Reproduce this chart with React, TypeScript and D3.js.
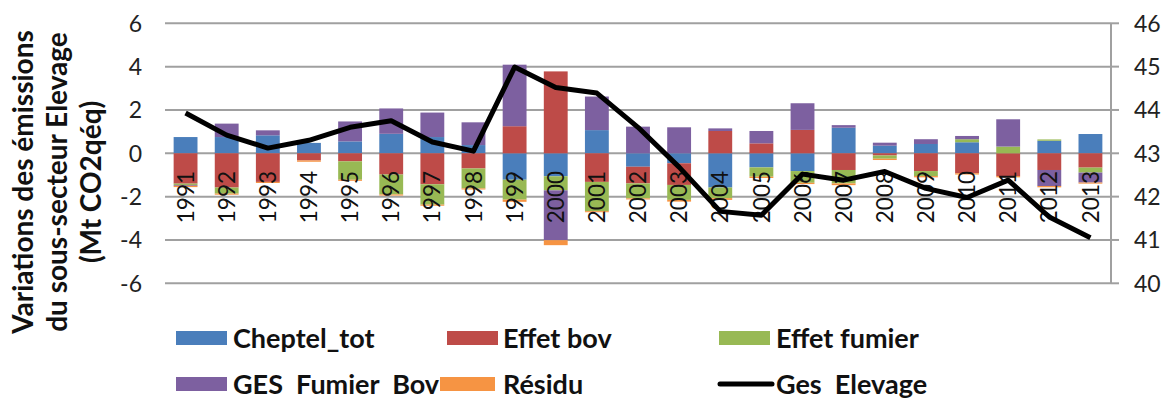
import * as d3 from "d3";

// categories
const years = [
  "1991", "1992", "1993", "1994", "1995", "1996", "1997", "1998", "1999", "2000", "2001", "2002",
  "2003", "2004", "2005", "2006", "2007", "2008", "2009", "2010", "2011", "2012", "2013",
];

// stacked components (Mt CO2 eq, left axis)
const cheptelTot = [0.75, 0.75, 0.83, 0.48, 0.55, 0.9, 0.75, 0.38, -1.22, -1.06, 1.07, -0.62, -0.46, -1.58, -0.65, -0.82, 1.18, 0.35, 0.43, 0.51, 0, 0.58, 0.89];
const effetBov = [-1.4, -1.58, -1.32, -0.33, -0.37, -0.98, -1.43, -0.7, 1.25, 3.78, -1.32, -0.77, -1.0, 1.03, 0.46, 1.08, -0.77, -0.1, -0.82, -0.92, -1.05, -0.77, -0.66];
const effetFumier = [-0.06, -0.28, 0, 0, -0.85, -0.92, -0.94, -0.92, -0.92, -0.65, -1.35, -0.69, -0.69, -0.49, -0.43, -0.54, -0.62, -0.15, -0.23, 0.14, 0.31, 0.06, -0.23];
const gesFumierBov = [-0.04, 0.62, 0.23, 0, 0.92, 1.17, 1.13, 1.05, 2.84, -2.3, 1.55, 1.23, 1.2, 0.12, 0.57, 1.23, 0.12, 0.14, 0.22, 0.15, 1.26, -0.74, -0.46];
const residu = [-0.06, -0.05, -0.05, -0.06, -0.05, -0.05, -0.05, -0.05, -0.1, -0.23, -0.05, -0.05, -0.08, -0.08, -0.06, -0.06, -0.08, -0.06, -0.06, -0.06, -0.06, -0.06, -0.05];

// total (right axis)
const gesElevage = [43.93, 43.42, 43.12, 43.3, 43.6, 43.75, 43.26, 43.05, 44.99, 44.52, 44.39, 43.6, 42.68, 41.66, 41.57, 42.52, 42.38, 42.58, 42.19, 41.98, 42.38, 41.53, 41.05];

const leftTicks = [-6, -4, -2, 0, 2, 4, 6];
const rightTicks = [40, 41, 42, 43, 44, 45, 46];

const seriesNames = ["Cheptel_tot", "Effet bov", "Effet fumier", "GES  Fumier  Bov", "Résidu"];
const seriesValues = [cheptelTot, effetBov, effetFumier, gesFumierBov, residu];
const colors = ["#4a7ebb", "#be4b48", "#98b954", "#7d60a0", "#f69443"];
const lineName = "Ges  Elevage";

const titleLines = ["Variations des émissions", "du sous-secteur Elevage", "(Mt CO2qéq)"];

const W = 1168;
const H = 401;
const plotLeft = 165;
const plotRight = 1111;
const plotTop = 23.3;
const plotBottom = 283.3;
const font = "Lato, 'Open Sans', sans-serif";

// keep the double spaces of the legend labels
const keepSpaces = (s: string) => s.replace(/  /g, "\u00a0 ");

export default function App() {
  const rows = years.map((y, i) => {
    const r: Record<string, any> = { year: y };
    seriesNames.forEach((s, k) => (r[s] = seriesValues[k][i]));
    return r;
  });

  const stacked = d3
    .stack<Record<string, any>>()
    .keys(seriesNames)
    .offset(d3.stackOffsetDiverging)(rows);

  const x = d3.scaleBand().domain(years).range([plotLeft, plotRight]).padding(0);
  const barW = x.bandwidth() * 0.58;
  const cx = (y: string) => x(y)! + x.bandwidth() / 2;

  const yL = d3.scaleLinear().domain([-6, 6]).range([plotBottom, plotTop]);
  const yR = d3.scaleLinear().domain([40, 46]).range([plotBottom, plotTop]);

  const line = d3
    .line<number>()
    .x((_, i) => cx(years[i]))
    .y((d) => yR(d));

  // legend layout: swatch x, row, text x, swatch width
  const legendLayout = [
    { sx: 176, row: 0, tx: 233, sw: 51 },
    { sx: 447, row: 0, tx: 503, sw: 51 },
    { sx: 719, row: 0, tx: 776, sw: 51 },
    { sx: 176, row: 1, tx: 233, sw: 51 },
    { sx: 440, row: 1, tx: 503, sw: 55 },
  ];
  const rowY = [338, 384];

  return (
    <svg
      width={W}
      height={H}
      style={{ position: "absolute", left: 0, top: 0, background: "#fff" }}
      fontFamily={font}
    >
      {/* gridlines */}
      <g stroke="#a0a0a0" strokeWidth={2}>
        {leftTicks.map((t) => (
          <line key={t} x1={plotLeft} x2={plotRight} y1={yL(t)} y2={yL(t)} />
        ))}
      </g>

      {/* right axis */}
      <g stroke="#a0a0a0" strokeWidth={2}>
        <line x1={plotRight} x2={plotRight} y1={plotTop} y2={plotBottom} />
        {rightTicks.map((t) => (
          <line key={t} x1={plotRight} x2={plotRight + 8} y1={yR(t)} y2={yR(t)} />
        ))}
      </g>

      {/* left tick labels */}
      <g fontSize={23} fill="#222" textAnchor="end">
        {leftTicks.map((t) => (
          <text key={t} x={142} y={yL(t)} dy="0.36em">
            {t}
          </text>
        ))}
      </g>

      {/* right tick labels */}
      <g fontSize={23} fill="#222">
        {rightTicks.map((t) => (
          <text key={t} x={1134} y={yR(t)} dy="0.36em">
            {t}
          </text>
        ))}
      </g>

      {/* stacked bars */}
      {stacked.map((s, k) => (
        <g key={s.key} fill={colors[k]}>
          {s.map((d, i) => {
            const y0 = yL(d[0]);
            const y1 = yL(d[1]);
            if (Math.abs(y1 - y0) < 0.01) return null;
            return (
              <rect
                key={i}
                x={cx(years[i]) - barW / 2}
                y={Math.min(y0, y1)}
                width={barW}
                height={Math.abs(y1 - y0)}
              />
            );
          })}
        </g>
      ))}

      {/* year labels */}
      <g fontSize={22.5} fill="#111" textAnchor="end">
        {years.map((y) => (
          <text key={y} transform={`translate(${cx(y)},171) rotate(-90)`} dy="0.36em">
            {y}
          </text>
        ))}
      </g>

      {/* total line */}
      <path
        d={line(gesElevage) || ""}
        fill="none"
        stroke="#000"
        strokeWidth={5}
        strokeLinejoin="round"
      />

      {/* y title */}
      <g fontSize={28} fontWeight="bold" fill="#111" textAnchor="middle">
        {titleLines.map((t, i) => (
          <text key={i} transform={`translate(${33 + i * 34},182) rotate(-90)`}>
            {t}
          </text>
        ))}
      </g>

      {/* legend */}
      <g fontSize={27} fontWeight="bold" fill="#111">
        {seriesNames.map((s, k) => {
          const l = legendLayout[k];
          const cy = rowY[l.row];
          return (
            <g key={s}>
              <rect x={l.sx} y={cy - 7} width={l.sw} height={14} fill={colors[k]} />
              <text x={l.tx} y={cy} dy="0.36em">
                {keepSpaces(s)}
              </text>
            </g>
          );
        })}
        <line x1={720} x2={772} y1={rowY[1]} y2={rowY[1]} stroke="#000" strokeWidth={5} strokeLinecap="round" />
        <text x={776} y={rowY[1]} dy="0.36em">
          {keepSpaces(lineName)}
        </text>
      </g>
    </svg>
  );
}
